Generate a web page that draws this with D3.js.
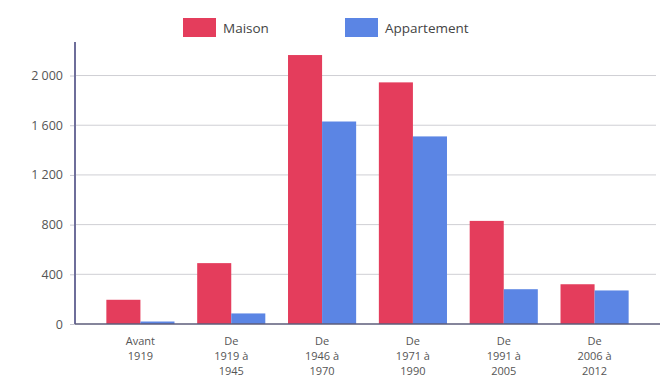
<!DOCTYPE html>
<html>
<head>
<meta charset="utf-8">
<script src="https://cdn.jsdelivr.net/npm/d3@7"></script>
<style>
  html, body { margin: 0; padding: 0; background: #fff; }
  svg { display: block; font-family: "Open Sans", sans-serif; }
</style>
</head>
<body>
<svg id="chart" width="663" height="383"></svg>
<script>
// Logements par période de construction
const categories = [
  ["Avant", "1919"],
  ["De", "1919 à", "1945"],
  ["De", "1946 à", "1970"],
  ["De", "1971 à", "1990"],
  ["De", "1991 à", "2005"],
  ["De", "2006 à", "2012"]
];
const seriesNames = ["Maison", "Appartement"];
const maison = [195, 490, 2165, 1945, 830, 320];
const appartement = [20, 85, 1630, 1510, 280, 270];
const yTicks = [0, 400, 800, 1200, 1600, 2000];

const colors = { Maison: "#e43d5c", Appartement: "#5b85e4" };

const svg = d3.select("#chart");
const plotLeft = 75, plotRight = 660, plotTop = 42, plotBottom = 324;

const keys = categories.map(c => c.join(" "));
const x = d3.scaleBand().domain(keys).range([95, 640]).paddingInner(0.25).paddingOuter(0.125);
const xs = d3.scaleBand().domain(seriesNames).range([0, x.bandwidth()]);
const y = d3.scaleLinear().domain([0, 2270]).range([plotBottom, plotTop]);

// gridlines
svg.append("g").selectAll("line").data(yTicks.filter(d => d > 0)).join("line")
  .attr("x1", plotLeft).attr("x2", 656)
  .attr("y1", d => y(d)).attr("y2", d => y(d))
  .attr("stroke", "#cfcfd4").attr("stroke-width", 1);

// bars
const rows = keys.map((k, i) => ({ key: k, Maison: maison[i], Appartement: appartement[i] }));
svg.append("g").selectAll("g").data(rows).join("g")
  .attr("transform", d => `translate(${x(d.key)},0)`)
  .selectAll("rect").data(d => seriesNames.map(s => ({ s, v: d[s] }))).join("rect")
  .attr("x", d => xs(d.s)).attr("width", xs.bandwidth())
  .attr("y", d => y(d.v)).attr("height", d => y(0) - y(d.v))
  .attr("fill", d => colors[d.s]);

// y axis
const fmt = d3.formatLocale({ decimal: ",", thousands: "\u00a0", grouping: [3], currency: ["", " €"] }).format(",d");
const yAxis = d3.axisLeft(y).tickValues(yTicks).tickSize(5).tickPadding(7).tickFormat(fmt);
const gy = svg.append("g").attr("transform", `translate(${plotLeft},0)`).call(yAxis);
gy.select(".domain").remove();
gy.selectAll(".tick line").attr("stroke", "#c8c8d2");
gy.selectAll(".tick text").attr("fill", "#555").attr("font-size", 12.5).attr("font-family", "Open Sans, sans-serif");
svg.append("line").attr("x1", plotLeft).attr("x2", plotLeft).attr("y1", plotTop).attr("y2", plotBottom)
  .attr("stroke", "#6e6e9a").attr("stroke-width", 2);
svg.append("line").attr("x1", plotLeft).attr("x2", plotRight).attr("y1", plotBottom).attr("y2", plotBottom)
  .attr("stroke", "#5c5c7a").attr("stroke-width", 1.5);

// x labels: one text per line, stacked under each group
const labelLines = categories.flatMap((c, i) => c.map((t, j) => ({ t, i, j })));
svg.append("g").selectAll("text").data(labelLines).join("text")
  .attr("x", d => x(keys[d.i]) + x.bandwidth() / 2)
  .attr("y", d => 344.5 + d.j * 15)
  .attr("text-anchor", "middle")
  .attr("fill", "#555").attr("font-size", 11)
  .text(d => d.t);

// legend
const legend = svg.append("g").selectAll("g").data(seriesNames).join("g")
  .attr("transform", (d, i) => `translate(${i === 0 ? 183 : 345},18)`);
legend.append("rect").attr("width", 33).attr("height", 19).attr("fill", d => colors[d]);
legend.append("text").attr("x", 40).attr("y", 14.5).attr("font-size", 13.5).attr("fill", "#444").text(d => d);
</script>
</body>
</html>
